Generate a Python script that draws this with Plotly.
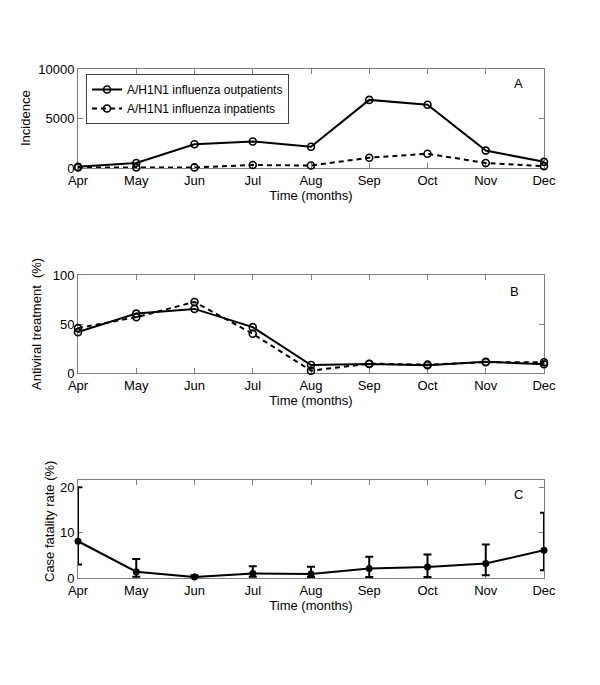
import plotly.graph_objects as go

months = ["Apr", "May", "Jun", "Jul", "Aug", "Sep", "Oct", "Nov", "Dec"]
outpatients = [130, 500, 2400, 2680, 2150, 6880, 6390, 1760, 620]
inpatients = [50, 50, 60, 300, 250, 1040, 1440, 510, 190]
antiviral_out = [41.7, 60.6, 65.4, 46.8, 8.1, 9.2, 7.9, 11.5, 9.0]
antiviral_in = [45.8, 57.0, 72.5, 40.0, 2.4, 9.5, 8.5, 11.0, 11.0]
cfr = [8.1, 1.4, 0.2, 1.0, 0.9, 2.1, 2.4, 3.2, 6.1]
cfr_low = [3.0, 0.3, 0.0, 0.3, 0.2, 0.2, 0.2, 0.6, 1.7]
cfr_high = [20.0, 4.2, 0.6, 2.6, 2.5, 4.7, 5.2, 7.4, 14.4]

x = list(range(len(months)))
FONT = "Liberation Sans, Arial, sans-serif"
DASH = "5px,4px"

# the page body has an 8px margin; figure sized/positioned to compensate
OX, OY = 8.0, 8.0
W, H = 584, 669

def px_x(px):
    return (px - OX) / W

def px_y(py):
    return 1 - (py - OY) / H

MK_OPEN = dict(symbol="circle-open", size=7, color="black", line=dict(width=1.6))

fig = go.Figure()
fig.add_trace(go.Scatter(x=x, y=outpatients, mode="lines+markers", name="A/H1N1 influenza outpatients",
                         line=dict(color="black", width=2), marker=MK_OPEN,
                         cliponaxis=False, xaxis="x", yaxis="y"))
fig.add_trace(go.Scatter(x=x, y=inpatients, mode="lines+markers", name="A/H1N1 influenza inpatients",
                         line=dict(color="black", width=2, dash=DASH), marker=MK_OPEN,
                         cliponaxis=False, xaxis="x", yaxis="y"))
fig.add_trace(go.Scatter(x=x, y=antiviral_out, mode="lines+markers", showlegend=False,
                         line=dict(color="black", width=2), marker=MK_OPEN,
                         cliponaxis=False, xaxis="x2", yaxis="y2"))
fig.add_trace(go.Scatter(x=x, y=antiviral_in, mode="lines+markers", showlegend=False,
                         line=dict(color="black", width=2, dash=DASH), marker=MK_OPEN,
                         cliponaxis=False, xaxis="x2", yaxis="y2"))
fig.add_trace(go.Scatter(x=x, y=cfr, mode="lines+markers", showlegend=False,
                         line=dict(color="black", width=2),
                         marker=dict(symbol="circle", size=7, color="black"),
                         error_y=dict(type="data", symmetric=False,
                                      array=[h - v for h, v in zip(cfr_high, cfr)],
                                      arrayminus=[v - l for v, l in zip(cfr, cfr_low)],
                                      color="black", thickness=2, width=4),
                         cliponaxis=False, xaxis="x3", yaxis="y3"))

def dom(top, bottom):
    return [px_y(bottom), px_y(top)]

xdom = [px_x(78), px_x(544)]
axis_common = dict(showline=True, linecolor="#808080", linewidth=1, mirror="allticks",
                   ticks="inside", ticklen=5, tickcolor="#808080", showgrid=False, zeroline=False,
                   automargin=False, layer="below traces",
                   tickfont=dict(family=FONT, size=13, color="black"))

def xax(anchor):
    d = dict(axis_common)
    d.update(domain=xdom, range=[0, 8], tickvals=x, ticktext=months, anchor=anchor,
             tickfont=dict(family=FONT, size=13, color="black"),
             title=dict(text="Time (months)", font=dict(family=FONT, size=13, color="black"), standoff=0))
    return d

def yax(domain, rng, tickvals, anchor):
    d = dict(axis_common)
    d.update(domain=domain, range=rng, tickvals=tickvals, anchor=anchor, tickformat="d")
    return d

fig.update_layout(
    width=W, height=H, margin=dict(l=0, r=0, t=0, b=0),
    paper_bgcolor="white", plot_bgcolor="white",
    font=dict(family=FONT, color="black"),
    xaxis=xax("y"), yaxis=yax(dom(69, 168), [0, 10000], [0, 5000, 10000], "x"),
    xaxis2=xax("y2"), yaxis2=yax(dom(275, 373), [0, 100], [0, 50, 100], "x2"),
    xaxis3=xax("y3"), yaxis3=yax(dom(480, 578), [0, 21.6], [0, 10, 20], "x3"),
    legend=dict(x=px_x(86), y=px_y(74), xanchor="left", yanchor="top",
                bordercolor="#404040", borderwidth=1, bgcolor="white",
                font=dict(family=FONT, size=12, color="black"),
                tracegroupgap=0, itemwidth=30),
    showlegend=True,
)

annots = [("A", 518, 84), ("B", 514, 291), ("C", 518, 495)]
for t, px, py in annots:
    fig.add_annotation(text=t, x=px_x(px), y=px_y(py), xref="paper", yref="paper",
                       xanchor="center", yanchor="middle",
                       showarrow=False, font=dict(family=FONT, size=13, color="black"))

ytitles = [("Incidence", 26, 118), ("Antiviral treatment  (%)", 36, 324), ("Case fatality rate (%)", 49, 522)]
for t, px, py in ytitles:
    fig.add_annotation(text=t, x=px_x(px), y=px_y(py), xref="paper", yref="paper",
                       xanchor="center", yanchor="middle",
                       showarrow=False, textangle=-90,
                       font=dict(family=FONT, size=13, color="black"))

fig.write_html("out.html")
